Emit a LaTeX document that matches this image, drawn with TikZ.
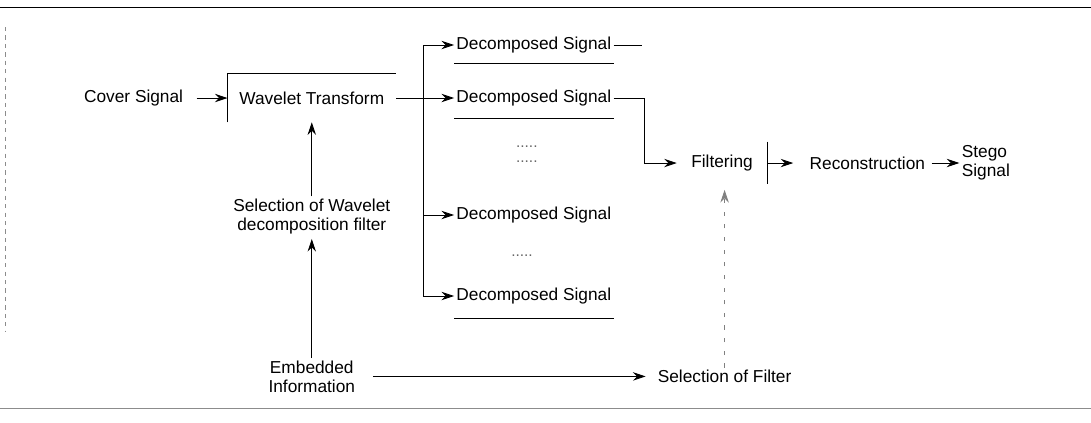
\documentclass[tikz,border=0pt]{standalone}
\usepackage{fontspec}
\setmainfont{Liberation Sans}
\usepackage{tikz}
\usetikzlibrary{arrows.meta,positioning}

\begin{document}
\begin{tikzpicture}[
    txt/.style={inner sep=1.5pt, align=center, font=\fontsize{12.3pt}{13.5pt}\selectfont},
    block/.style={txt, minimum width=4.2cm, minimum height=1.2cm},
    filtbox/.style={txt, minimum width=2.25cm, minimum height=1.05cm},
    dotrow/.style={inner sep=0pt, align=center, text=black!60, font=\fontsize{11pt}{10.5pt}\selectfont},
    arrow/.style={draw, line width=0.6pt, -{Stealth[length=9pt,width=6pt,inset=3pt]}},
    line/.style={draw, line width=0.6pt},
    faintarrow/.style={draw, line width=0.6pt, black!50, dash pattern=on 3pt off 6pt, -{Stealth[length=9pt,width=6pt,inset=3pt]}},
    frame/.style={draw, line width=0.7pt}
]
    \useasboundingbox (0,0) rectangle (27.275,-10.55);
    \draw[frame] (0,-0.175) -- (27.275,-0.175);
    \draw[frame, black!45] (0,-10.2) -- (27.275,-10.2);
    \draw[frame, black!45, dashed] (0.125,-0.675) -- (0.125,-8.3);

    \node[txt] (cover) at (3.34,-2.45) {Cover Signal};
    \node[block, right=1.05cm of cover] (wavelet) {Wavelet Transform};
    \coordinate[right=0.68cm of wavelet.east] (split);
    \node[txt, right=1.45cm of wavelet] (dec2) {Decomposed Signal};
    \node[txt, anchor=west] (dec1) at ([yshift=1.325cm]dec2.west) {Decomposed Signal};
    \node[txt, anchor=west] (dec3) at ([yshift=-2.925cm]dec2.west) {Decomposed Signal};
    \node[txt, anchor=west] (dec4) at ([yshift=-4.95cm]dec2.west) {Decomposed Signal};
    \node[dotrow] (dots1) at (13.17,-3.85) {.....\\.....};
    \node[dotrow] (dots2) at (13.05,-6.4) {.....};
    \node[filtbox] (filter) at (18.05,-4.075) {Filtering};
    \node[txt, right=1.0cm of filter] (recon) {Reconstruction};
    \node[txt, align=left, right=0.8cm of recon] (stego) {Stego\\Signal};
    \node[txt, below=1.85cm of wavelet] (selwave) {Selection of Wavelet\\decomposition filter};
    \node[txt, below=3.05cm of selwave] (embed) {Embedded\\Information};
    \node[txt, right=7.45cm of embed] (selfilt) {Selection of Filter};

    \draw[line] (wavelet.south west) -- (wavelet.north west) -- (wavelet.north east);
    \draw[line] (filter.north east) -- (filter.south east);

    \path [arrow, shorten <=8pt] (cover) -- (wavelet);
    \path [arrow] (wavelet.east) -- (dec2.west);
    \draw [arrow] (split) |- (dec1.west);
    \draw [arrow] (split) |- (dec3.west);
    \draw [arrow] (split) |- (dec4.west);
    \draw [line] ([yshift=-0.45cm]dec1.west) -- ([yshift=-0.45cm]dec1.east);
    \draw [line] ([yshift=-0.5cm]dec2.west) -- ([yshift=-0.5cm]dec2.east);
    \draw [line] ([yshift=-0.55cm]dec4.west) -- ([yshift=-0.55cm]dec4.east);
    \draw [line] (dec1.east) -- ++(0.7,0);
    \draw [arrow] (dec2.east) -- ++(0.78,0) |- (filter.west);
    \path [arrow, shorten >=10pt] (filter) -- (recon);
    \path [arrow, shorten <=3pt] (recon) -- (stego);
    \path [arrow] (selwave) -- (wavelet);
    \path [arrow, shorten >=2pt] (embed) -- (selwave);
    \path [arrow, shorten <=11pt, shorten >=7pt] (embed) -- (selfilt);
    \path [faintarrow, shorten >=4pt] (selfilt.north) -- (selfilt.north |- filter.south);
\end{tikzpicture}
\end{document}
